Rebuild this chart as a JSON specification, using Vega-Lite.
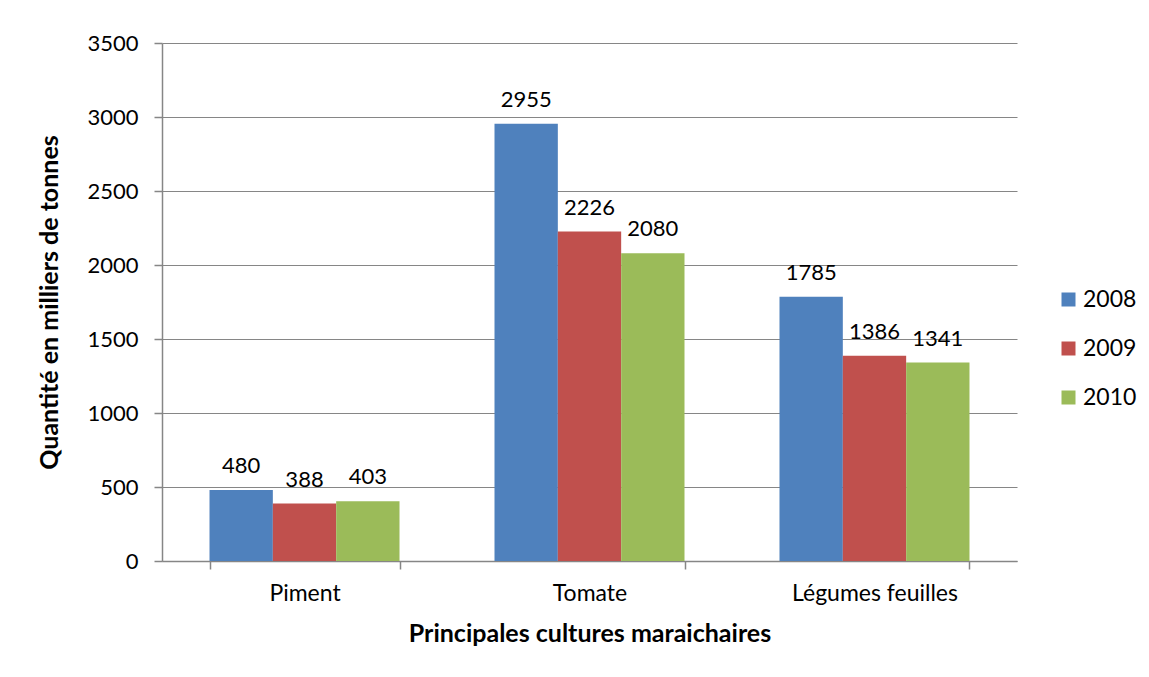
{
  "$schema": "https://vega.github.io/schema/vega-lite/v6.json",
  "width": 855,
  "height": 518,
  "autosize": {"type": "none"},
  "padding": {"left": 162, "top": 43, "right": 132, "bottom": 116},
  "background": "white",
  "data": {
    "values": [
      {"culture": "Piment", "annee": "2008", "valeur": 480},
      {"culture": "Piment", "annee": "2009", "valeur": 388},
      {"culture": "Piment", "annee": "2010", "valeur": 403},
      {"culture": "Tomate", "annee": "2008", "valeur": 2955},
      {"culture": "Tomate", "annee": "2009", "valeur": 2226},
      {"culture": "Tomate", "annee": "2010", "valeur": 2080},
      {"culture": "Légumes feuilles", "annee": "2008", "valeur": 1785},
      {"culture": "Légumes feuilles", "annee": "2009", "valeur": 1386},
      {"culture": "Légumes feuilles", "annee": "2010", "valeur": 1341}
    ]
  },
  "encoding": {
    "x": {
      "field": "culture",
      "type": "nominal",
      "sort": ["Piment", "Tomate", "Légumes feuilles"],
      "scale": {"paddingInner": 0.3333, "paddingOuter": 0.1667},
      "axis": {
        "title": "Principales cultures maraichaires",
        "labelAngle": 0,
        "labelFontSize": 23,
        "tickBand": "extent",
        "tickSize": 8,
        "labelPadding": 13,
        "titlePadding": 16,
        "grid": false
      }
    },
    "xOffset": {"field": "annee", "type": "nominal"},
    "y": {
      "field": "valeur",
      "type": "quantitative",
      "scale": {"domain": [0, 3500], "nice": false},
      "axis": {
        "title": "Quantité en milliers de tonnes",
        "format": "d",
        "values": [0, 500, 1000, 1500, 2000, 2500, 3000, 3500],
        "tickSize": 8,
        "labelPadding": 16,
        "titlePadding": 24,
        "grid": true
      }
    }
  },
  "layer": [
    {
      "mark": {"type": "bar"},
      "encoding": {
        "color": {
          "field": "annee",
          "type": "nominal",
          "scale": {"domain": ["2008", "2009", "2010"], "range": ["#4F81BD", "#C0504D", "#9BBB59"]},
          "legend": {
            "title": null,
            "orient": "none",
            "legendX": 895,
            "legendY": 245,
            "symbolType": "square",
            "symbolSize": 196,
            "symbolStrokeWidth": 0,
            "labelFontSize": 23,
            "labelFont": "Lato",
            "labelColor": "black",
            "rowPadding": 25,
            "labelOffset": 3
          }
        }
      }
    },
    {
      "mark": {"type": "text", "baseline": "bottom", "dy": -12, "fontSize": 22, "font": "Lato", "color": "black"},
      "encoding": {
        "text": {"field": "valeur", "type": "quantitative"}
      }
    }
  ],
  "config": {
    "view": {"stroke": null},
    "axis": {
      "labelFont": "Lato",
      "labelFontSize": 22,
      "labelColor": "black",
      "titleFont": "Lato",
      "titleFontSize": 25,
      "titleFontWeight": "bold",
      "titleColor": "black",
      "domainColor": "#868686",
      "tickColor": "#868686",
      "gridColor": "#868686",
      "domainWidth": 1.5,
      "tickWidth": 1.5,
      "gridWidth": 1.2
    }
  }
}
